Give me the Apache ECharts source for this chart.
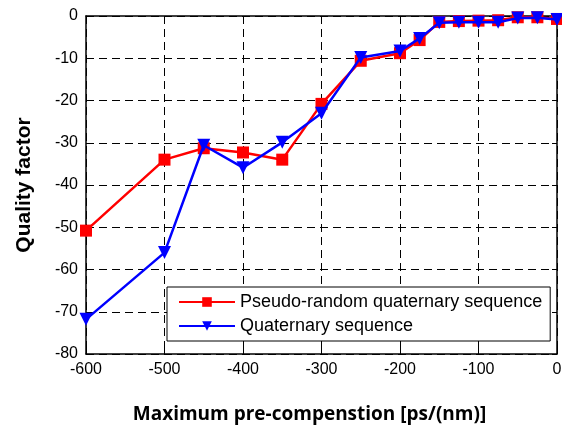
<!DOCTYPE html>
<html><head><meta charset="utf-8">
<script src="https://cdn.jsdelivr.net/npm/echarts@6/dist/echarts.min.js"></script>
<style>html,body{margin:0;padding:0;background:#fff}#c{width:562px;height:425px}</style>
</head><body><div id="c"></div>
<script>
const xValues = [-600, -500, -450, -400, -350, -300, -250, -200, -175, -150, -125, -100, -75, -50, -25, 0];
const pseudoRandom = [-50.8, -34.0, -31.3, -32.3, -34.0, -20.8, -10.6, -8.8, -5.7, -1.4, -1.2, -1.1, -1.0, -0.3, -0.3, -0.7];
const quaternary = [-71.8, -56.0, -30.6, -35.9, -29.9, -23.0, -9.8, -8.3, -5.3, -1.6, -1.5, -1.5, -1.5, -0.5, -0.4, -0.8];
const xTicks = [-600, -500, -400, -300, -200, -100, 0];
const yTicks = [-80, -70, -60, -50, -40, -30, -20, -10, 0];
const names = ['Pseudo-random quaternary sequence', 'Quaternary sequence'];

const chart = echarts.init(document.getElementById('c'), null, {renderer: 'canvas'});
const tickFont = {fontFamily: 'Liberation Sans, Arial', fontSize: 16, color: '#000'};
const dashed = {show: true, lineStyle: {color: '#000', type: [8, 5], width: 1}};
chart.setOption({
  animation: false,
  backgroundColor: '#fff',
  grid: {left: 86, right: 5, top: 16, bottom: 71, containLabel: false, outerBoundsMode: 'none'},
  legend: {
    orient: 'vertical', left: 167, top: 287,
    backgroundColor: '#fff', borderColor: '#000', borderWidth: 1,
    padding: [6, 8, 6, 11], itemGap: 6, itemWidth: 56, itemHeight: 12,
    textStyle: {fontFamily: 'Liberation Sans, Arial', fontSize: 18, color: '#000'},
    data: names
  },
  xAxis: [{
    type: 'value', min: -600, max: 0, interval: 100,
    axisLine: {show: true, onZero: false, lineStyle: {color: '#000', width: 1.5}},
    axisTick: {show: true, inside: true, length: 5, lineStyle: {color: '#000'}},
    axisLabel: Object.assign({margin: 8, formatter: v => xTicks.includes(v) ? String(v) : ''}, tickFont),
    splitLine: dashed,
    name: 'Maximum pre-compenstion [ps/(nm)]', nameLocation: 'middle', nameGap: 51,
    nameTextStyle: {fontFamily: 'Open Sans, Lato', fontWeight: 'bold', fontSize: 19, color: '#000', padding: [0, 24, 0, 0]}
  }, {
    type: 'value', position: 'top', min: -600, max: 0, interval: 100,
    axisLine: {show: true, onZero: false, lineStyle: {color: '#000', width: 1.5}},
    axisTick: {show: true, inside: true, length: 5, lineStyle: {color: '#000'}},
    axisLabel: {show: false}, splitLine: {show: false}
  }],
  yAxis: [{
    type: 'value', min: -80, max: 0, interval: 10,
    axisLine: {show: true, onZero: false, lineStyle: {color: '#000', width: 1.5}},
    axisTick: {show: true, inside: true, length: 5, lineStyle: {color: '#000'}},
    axisLabel: Object.assign({margin: 8, formatter: v => yTicks.includes(v) ? String(v) : ''}, tickFont),
    splitLine: dashed,
    name: 'Quality factor', nameLocation: 'middle', nameGap: 51,
    nameTextStyle: {fontFamily: 'Liberation Sans, Arial', fontWeight: 'bold', fontSize: 21, color: '#000'}
  }, {
    type: 'value', position: 'right', min: -80, max: 0, interval: 10,
    axisLine: {show: true, onZero: false, lineStyle: {color: '#000', width: 1.5}},
    axisTick: {show: true, inside: true, length: 5, lineStyle: {color: '#000'}},
    axisLabel: {show: false}, splitLine: {show: false}
  }],
  series: [{
    name: names[0], type: 'line', xAxisIndex: 0, yAxisIndex: 0,
    data: xValues.map((x, i) => [x, pseudoRandom[i]]),
    symbol: 'rect', symbolSize: 12,
    lineStyle: {color: '#ff0000', width: 2.5},
    itemStyle: {color: '#ff0000'}, z: 3
  }, {
    name: names[1], type: 'line', xAxisIndex: 0, yAxisIndex: 0,
    data: xValues.map((x, i) => [x, quaternary[i]]),
    symbol: 'triangle', symbolRotate: 180, symbolSize: 13,
    lineStyle: {color: '#0000ff', width: 2.5},
    itemStyle: {color: '#0000ff'}, z: 4
  }]
});
</script></body></html>
